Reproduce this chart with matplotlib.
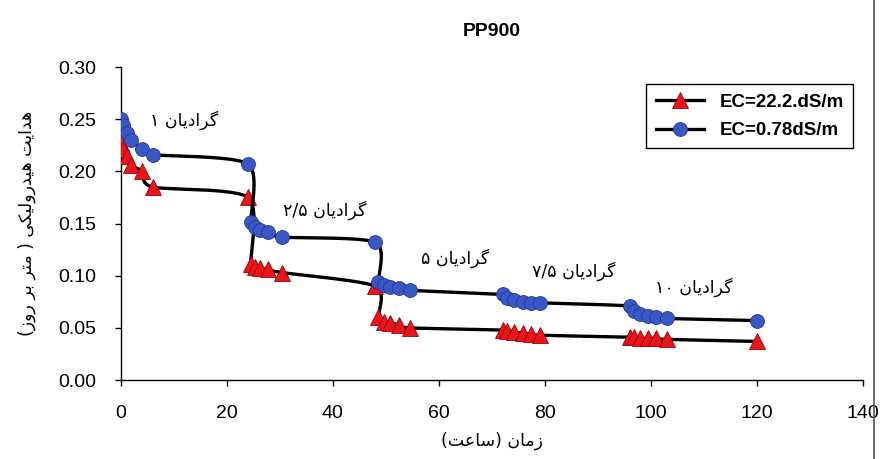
import numpy as np
import matplotlib
matplotlib.use('Agg')
import matplotlib.pyplot as plt
from matplotlib.lines import Line2D

plt.rcParams['font.family'] = ['Liberation Sans', 'DejaVu Sans']

# زمان (ساعت)
hours = [0, 0.5, 1.2, 2, 4, 6, 24,
         24.5, 25.3, 26.2, 27.7, 30.4, 48,
         48.6, 49.6, 50.8, 52.4, 54.5, 72,
         72.9, 74.2, 75.8, 77.4, 79, 96,
         96.8, 98, 99.5, 101, 103, 120]

# EC=22.2 dS/m
k_red = [0.227, 0.221, 0.215, 0.206, 0.200, 0.185, 0.175,
         0.111, 0.108, 0.107, 0.106, 0.103, 0.090,
         0.060, 0.056, 0.055, 0.053, 0.050, 0.048,
         0.047, 0.046, 0.045, 0.044, 0.043, 0.041,
         0.041, 0.040, 0.040, 0.040, 0.039, 0.037]

# EC=0.78 dS/m
k_blue = [0.250, 0.244, 0.237, 0.230, 0.221, 0.216, 0.207,
          0.151, 0.147, 0.144, 0.142, 0.137, 0.132,
          0.094, 0.091, 0.089, 0.088, 0.086, 0.082,
          0.079, 0.077, 0.075, 0.074, 0.074, 0.071,
          0.066, 0.063, 0.061, 0.060, 0.059, 0.057]

labels = ['گرادیان ۱', 'گرادیان ۲/۵', 'گرادیان ۵', 'گرادیان ۷/۵', 'گرادیان ۱۰']
label_x = [12, 38.5, 63, 85.5, 108]
label_y = [0.249, 0.163, 0.117, 0.104, 0.089]

xticks = [0, 20, 40, 60, 80, 100, 120, 140]
yticks = [0.00, 0.05, 0.10, 0.15, 0.20, 0.25, 0.30]

# شکل حروف فارسی: (تنها، پایانی، آغازی، میانی)
FORMS = {
    'ا': ('\uFE8D', '\uFE8E', None, None),
    'ب': ('\uFE8F', '\uFE90', '\uFE91', '\uFE92'),
    'ت': ('\uFE95', '\uFE96', '\uFE97', '\uFE98'),
    'د': ('\uFEA9', '\uFEAA', None, None),
    'ر': ('\uFEAD', '\uFEAE', None, None),
    'ز': ('\uFEAF', '\uFEB0', None, None),
    'س': ('\uFEB1', '\uFEB2', '\uFEB3', '\uFEB4'),
    'ع': ('\uFEC9', '\uFECA', '\uFECB', '\uFECC'),
    'ک': ('\uFB8E', '\uFB8F', '\uFB90', '\uFB91'),
    'گ': ('\uFB92', '\uFB93', '\uFB94', '\uFB95'),
    'ل': ('\uFEDD', '\uFEDE', '\uFEDF', '\uFEE0'),
    'م': ('\uFEE1', '\uFEE2', '\uFEE3', '\uFEE4'),
    'ن': ('\uFEE5', '\uFEE6', '\uFEE7', '\uFEE8'),
    'ه': ('\uFEE9', '\uFEEA', '\uFEEB', '\uFEEC'),
    'و': ('\uFEED', '\uFEEE', None, None),
    'ی': ('\uFBFC', '\uFBFD', '\uFBFE', '\uFBFF'),
}
DIGITS = set('۰۱۲۳۴۵۶۷۸۹/')


def fa(text):
    # شکل‌دهی حروف و چیدمان راست به چپ
    out = []
    for i, ch in enumerate(text):
        if ch not in FORMS:
            out.append(ch)
            continue
        iso, fin, ini, med = FORMS[ch]
        prev = text[i - 1] if i > 0 else ''
        nxt = text[i + 1] if i + 1 < len(text) else ''
        jp = prev in FORMS and FORMS[prev][2] is not None
        jn = ini is not None and nxt in FORMS
        if jp and jn:
            out.append(med)
        elif jp:
            out.append(fin)
        elif jn:
            out.append(ini)
        else:
            out.append(iso)
    out = out[::-1]
    res, run = [], []
    for ch in out:
        if ch in DIGITS:
            run.append(ch)
        else:
            res.extend(run[::-1])
            run = []
            res.append({'(': ')', ')': '('}.get(ch, ch))
    res.extend(run[::-1])
    return ''.join(res)


SX, SY = 5.3, 1043.0  # پیکسل بر واحد، برای هموارسازی مثل اکسل


def smooth(t, v, n=30, k=8.0):
    p = np.column_stack([np.asarray(t) * SX, np.asarray(v) * SY])
    pts = []
    for i in range(len(p) - 1):
        p0 = p[i - 1] if i > 0 else p[i]
        p1, p2 = p[i], p[i + 1]
        p3 = p[i + 2] if i + 2 < len(p) else p[i + 1]
        c1 = p1 + (p2 - p0) / k
        c2 = p2 - (p3 - p1) / k
        s = np.linspace(0, 1, n)[:, None]
        seg = (1 - s) ** 3 * p1 + 3 * (1 - s) ** 2 * s * c1 + 3 * (1 - s) * s ** 2 * c2 + s ** 3 * p2
        pts.append(seg if i == 0 else seg[1:])
    pts = np.vstack(pts)
    return pts[:, 0] / SX, pts[:, 1] / SY


fig = plt.figure(figsize=(8.88, 4.59), dpi=100)
ax = fig.add_axes([0.136, 0.172, 0.836, 0.682])

red, red_edge = '#E8161C', '#A00000'
blue, blue_edge = '#3A58C4', '#23359A'

xs, ys = smooth(hours, k_red)
ax.plot(xs, ys, color='black', lw=2.4, zorder=2)
ax.plot(hours, k_red, ls='none', marker='^', ms=11, mfc=red, mec=red_edge, mew=0.6, zorder=3)
xs, ys = smooth(hours, k_blue)
ax.plot(xs, ys, color='black', lw=2.4, zorder=4)
ax.plot(hours, k_blue, ls='none', marker='o', ms=10, mfc=blue, mec=blue_edge, mew=0.6, zorder=5)

for s, x, y in zip(labels, label_x, label_y):
    ax.text(x, y, fa(s), ha='center', va='center', fontsize=12.5, family=['DejaVu Sans'])

ax.set_xlim(0, 140)
ax.set_ylim(0, 0.30)
ax.set_xticks(xticks)
ax.set_yticks(yticks)
ax.set_yticklabels(['%.2f' % v for v in yticks])
ax.tick_params(labelsize=14, length=4, width=1, colors='black')
ax.tick_params(axis='y', pad=14)
ax.tick_params(axis='x', pad=14)
ax.spines['top'].set_visible(False)
ax.spines['right'].set_visible(False)
for sp in ['left', 'bottom']:
    ax.spines[sp].set_linewidth(1.0)

ax.set_title('PP900', fontsize=14, fontweight='bold', pad=22)
ax.set_xlabel(fa('زمان (ساعت)'), fontsize=12.5, family=['DejaVu Sans'], labelpad=7)
ax.set_ylabel(fa('هدایت هیدرولیکی ( متر بر روز)'), fontsize=12.5, family=['DejaVu Sans'], labelpad=16)

handles = [
    Line2D([], [], color='black', lw=2.4, marker='^', ms=11, mfc=red, mec=red_edge, mew=0.6),
    Line2D([], [], color='black', lw=2.4, marker='o', ms=10, mfc=blue, mec=blue_edge, mew=0.6),
]
leg = ax.legend(handles, ['EC=22.2.dS/m', 'EC=0.78dS/m'], loc='upper right',
                bbox_to_anchor=(0.999, 0.975), fancybox=False, framealpha=1,
                edgecolor='black', handlelength=2.6, borderpad=0.5, labelspacing=0.6,
                prop={'size': 13.5, 'weight': 'bold'})
leg.get_frame().set_linewidth(1.0)

# خط کناری کادر نمودار
fig.add_artist(Line2D([0.984, 0.984], [0.0, 1.0], color='#555555', lw=1.2))

fig.savefig('out.png', dpi=100)
